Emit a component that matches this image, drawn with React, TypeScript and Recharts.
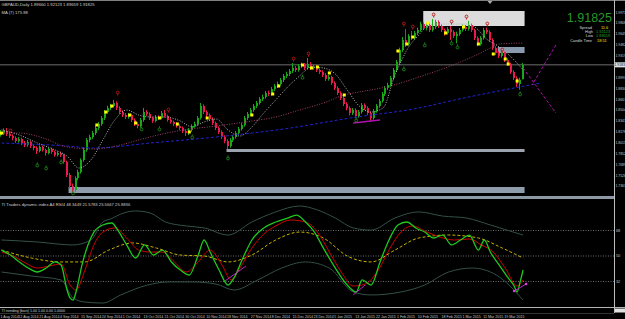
import React from "react"
import { ComposedChart, Bar, Line, XAxis, YAxis, ReferenceArea, ReferenceLine, ReferenceDot } from "recharts"

// GBPAUD daily, Aug 2014 - Mar 2015
const opens = [
  1.8130, 1.8160, 1.8190, 1.8145, 1.8115, 1.8085, 1.8040, 1.8070, 1.8010, 1.7980,
  1.8025, 1.7965, 1.7935, 1.7890, 1.7950, 1.7905, 1.7860, 1.7920, 1.7875, 1.7830,
  1.7860, 1.7830, 1.7725, 1.7530, 1.7365, 1.7305, 1.7485, 1.7575, 1.7755, 1.7905,
  1.8055, 1.8100, 1.8160, 1.8235, 1.8295, 1.8385, 1.8475, 1.8535, 1.8565, 1.8610,
  1.8535, 1.8475, 1.8430, 1.8400, 1.8430, 1.8355, 1.8295, 1.8265, 1.8355, 1.8475,
  1.8445, 1.8385, 1.8340, 1.8400, 1.8385, 1.8460, 1.8415, 1.8355, 1.8325, 1.8295,
  1.8265, 1.8235, 1.8190, 1.8160, 1.8205, 1.8265, 1.8295, 1.8385, 1.8565, 1.8475,
  1.8430, 1.8370, 1.8310, 1.8235, 1.8175, 1.8100, 1.8040, 1.7965, 1.8055, 1.8100,
  1.8160, 1.8220, 1.8280, 1.8385, 1.8445, 1.8505, 1.8565, 1.8610, 1.8670, 1.8700,
  1.8760, 1.8745, 1.8820, 1.8865, 1.8895, 1.8955, 1.9015, 1.9045, 1.9090, 1.9135,
  1.9105, 1.9165, 1.9180, 1.9135, 1.9195, 1.9135, 1.9150, 1.9105, 1.9075, 1.9030,
  1.8970, 1.9000, 1.8910, 1.8835, 1.8760, 1.8685, 1.8595, 1.8535, 1.8460, 1.8505,
  1.8415, 1.8475, 1.8580, 1.8535, 1.8460, 1.8385, 1.8490, 1.8565, 1.8640, 1.8745,
  1.8835, 1.8880, 1.8985, 1.9105, 1.9225, 1.9405, 1.9555, 1.9495, 1.9615, 1.9585,
  1.9660, 1.9705, 1.9795, 1.9735, 1.9780, 1.9705, 1.9750, 1.9825, 1.9765, 1.9705,
  1.9660, 1.9720, 1.9675, 1.9615, 1.9645, 1.9705, 1.9750, 1.9720, 1.9780, 1.9705,
  1.9585, 1.9495, 1.9585, 1.9705, 1.9675, 1.9555, 1.9435, 1.9360, 1.9315, 1.9375,
  1.9255, 1.9195, 1.9075, 1.8985, 1.8895, 1.8966,
]
const highs = [
  1.8205, 1.8230, 1.8235, 1.8175, 1.8140, 1.8110, 1.8100, 1.8090, 1.8040, 1.8055,
  1.8045, 1.7990, 1.7960, 1.7975, 1.7970, 1.7925, 1.7945, 1.7940, 1.7895, 1.7885,
  1.7880, 1.7850, 1.7745, 1.7560, 1.7400, 1.7510, 1.7610, 1.7780, 1.7935, 1.8085,
  1.8135, 1.8190, 1.8265, 1.8325, 1.8415, 1.8505, 1.8570, 1.8600, 1.8655, 1.8635,
  1.8560, 1.8500, 1.8460, 1.8460, 1.8450, 1.8380, 1.8320, 1.8385, 1.8535, 1.8505,
  1.8470, 1.8405, 1.8430, 1.8425, 1.8490, 1.8505, 1.8435, 1.8380, 1.8345, 1.8320,
  1.8290, 1.8255, 1.8215, 1.8235, 1.8290, 1.8330, 1.8415, 1.8610, 1.8590, 1.8500,
  1.8455, 1.8395, 1.8330, 1.8260, 1.8200, 1.8125, 1.8065, 1.8085, 1.8130, 1.8190,
  1.8250, 1.8310, 1.8415, 1.8475, 1.8535, 1.8595, 1.8640, 1.8700, 1.8735, 1.8790,
  1.8795, 1.8850, 1.8895, 1.8930, 1.8985, 1.9045, 1.9080, 1.9120, 1.9210, 1.9165,
  1.9195, 1.9215, 1.9210, 1.9285, 1.9225, 1.9185, 1.9175, 1.9130, 1.9100, 1.9055,
  1.9030, 1.9020, 1.8935, 1.8860, 1.8785, 1.8710, 1.8620, 1.8560, 1.8535, 1.8530,
  1.8505, 1.8610, 1.8605, 1.8560, 1.8480, 1.8520, 1.8595, 1.8670, 1.8775, 1.8865,
  1.8915, 1.9015, 1.9135, 1.9255, 1.9440, 1.9600, 1.9720, 1.9645, 1.9690, 1.9690,
  1.9740, 1.9830, 1.9820, 1.9815, 1.9800, 1.9870, 1.9860, 1.9850, 1.9790, 1.9730,
  1.9750, 1.9765, 1.9700, 1.9680, 1.9735, 1.9785, 1.9780, 1.9840, 1.9800, 1.9725,
  1.9610, 1.9615, 1.9740, 1.9740, 1.9700, 1.9580, 1.9460, 1.9385, 1.9405, 1.9395,
  1.9280, 1.9215, 1.9100, 1.9010, 1.8990, 1.92123,
]
const lows = [
  1.8105, 1.8130, 1.8115, 1.8085, 1.8050, 1.8010, 1.8015, 1.7980, 1.7950, 1.7955,
  1.7935, 1.7900, 1.7845, 1.7870, 1.7880, 1.7820, 1.7840, 1.7850, 1.7805, 1.7810,
  1.7800, 1.7700, 1.7500, 1.7330, 1.7265, 1.7280, 1.7450, 1.7550, 1.7730, 1.7880,
  1.8020, 1.8070, 1.8130, 1.8205, 1.8270, 1.8355, 1.8450, 1.8505, 1.8540, 1.8505,
  1.8445, 1.8400, 1.8370, 1.8375, 1.8325, 1.8265, 1.8230, 1.8240, 1.8330, 1.8415,
  1.8355, 1.8310, 1.8320, 1.8360, 1.8365, 1.8390, 1.8330, 1.8300, 1.8265, 1.8240,
  1.8205, 1.8160, 1.8115, 1.8130, 1.8175, 1.8240, 1.8270, 1.8360, 1.8445, 1.8400,
  1.8340, 1.8280, 1.8205, 1.8145, 1.8070, 1.8005, 1.7920, 1.7940, 1.8025, 1.8075,
  1.8135, 1.8195, 1.8255, 1.8355, 1.8420, 1.8480, 1.8535, 1.8585, 1.8640, 1.8675,
  1.8715, 1.8720, 1.8790, 1.8835, 1.8870, 1.8925, 1.8985, 1.9015, 1.9060, 1.9075,
  1.9080, 1.9135, 1.9105, 1.9110, 1.9105, 1.9110, 1.9075, 1.9045, 1.9000, 1.8940,
  1.8945, 1.8880, 1.8805, 1.8730, 1.8655, 1.8565, 1.8500, 1.8425, 1.8430, 1.8385,
  1.8390, 1.8450, 1.8505, 1.8430, 1.8340, 1.8360, 1.8465, 1.8540, 1.8615, 1.8715,
  1.8805, 1.8855, 1.8955, 1.9075, 1.9195, 1.9375, 1.9450, 1.9470, 1.9555, 1.9560,
  1.9630, 1.9680, 1.9705, 1.9700, 1.9675, 1.9680, 1.9720, 1.9735, 1.9675, 1.9620,
  1.9635, 1.9555, 1.9585, 1.9505, 1.9620, 1.9680, 1.9690, 1.9695, 1.9675, 1.9555,
  1.9465, 1.9470, 1.9560, 1.9645, 1.9525, 1.9405, 1.9330, 1.9285, 1.9290, 1.9225,
  1.9165, 1.9045, 1.8955, 1.8850, 1.8810, 1.89659,
]
const closes = [
  1.8160, 1.8190, 1.8145, 1.8115, 1.8085, 1.8040, 1.8070, 1.8010, 1.7980, 1.8025,
  1.7965, 1.7935, 1.7890, 1.7950, 1.7905, 1.7860, 1.7920, 1.7875, 1.7830, 1.7860,
  1.7830, 1.7725, 1.7530, 1.7365, 1.7305, 1.7485, 1.7575, 1.7755, 1.7905, 1.8055,
  1.8100, 1.8160, 1.8235, 1.8295, 1.8385, 1.8475, 1.8535, 1.8565, 1.8610, 1.8535,
  1.8475, 1.8430, 1.8400, 1.8430, 1.8355, 1.8295, 1.8265, 1.8355, 1.8475, 1.8445,
  1.8385, 1.8340, 1.8400, 1.8385, 1.8460, 1.8415, 1.8355, 1.8325, 1.8295, 1.8265,
  1.8235, 1.8190, 1.8160, 1.8205, 1.8265, 1.8295, 1.8385, 1.8565, 1.8475, 1.8430,
  1.8370, 1.8310, 1.8235, 1.8175, 1.8100, 1.8040, 1.7965, 1.8055, 1.8100, 1.8160,
  1.8220, 1.8280, 1.8385, 1.8445, 1.8505, 1.8565, 1.8610, 1.8670, 1.8700, 1.8760,
  1.8745, 1.8820, 1.8865, 1.8895, 1.8955, 1.9015, 1.9045, 1.9090, 1.9135, 1.9105,
  1.9165, 1.9180, 1.9135, 1.9195, 1.9135, 1.9150, 1.9105, 1.9075, 1.9030, 1.8970,
  1.9000, 1.8910, 1.8835, 1.8760, 1.8685, 1.8595, 1.8535, 1.8460, 1.8505, 1.8415,
  1.8475, 1.8580, 1.8535, 1.8460, 1.8385, 1.8490, 1.8565, 1.8640, 1.8745, 1.8835,
  1.8880, 1.8985, 1.9105, 1.9225, 1.9405, 1.9555, 1.9495, 1.9615, 1.9585, 1.9660,
  1.9705, 1.9795, 1.9735, 1.9780, 1.9705, 1.9750, 1.9825, 1.9765, 1.9705, 1.9660,
  1.9720, 1.9675, 1.9615, 1.9645, 1.9705, 1.9750, 1.9720, 1.9780, 1.9705, 1.9585,
  1.9495, 1.9585, 1.9705, 1.9675, 1.9555, 1.9435, 1.9360, 1.9315, 1.9375, 1.9255,
  1.9195, 1.9075, 1.8985, 1.8895, 1.8960, 1.91825,
]

// moving averages as [bar, price] points
const fastMa = [
  [0, 1.8205], [6, 1.8130], [12, 1.8010], [18, 1.7905], [22, 1.7815], [26, 1.7635], [30, 1.7755],
  [34, 1.8055], [38, 1.8355], [42, 1.8505], [46, 1.8430], [50, 1.8400], [55, 1.8400], [60, 1.8340],
  [64, 1.8250], [68, 1.8325], [72, 1.8370], [76, 1.8205], [80, 1.8115], [84, 1.8250], [88, 1.8460],
  [92, 1.8655], [96, 1.8850], [100, 1.9015], [104, 1.9150], [108, 1.9135], [112, 1.9045], [116, 1.8805],
  [120, 1.8565], [124, 1.8475], [128, 1.8535], [132, 1.9030], [134, 1.9225], [136, 1.9405], [140, 1.9630],
  [143, 1.9765], [146, 1.9795], [150, 1.9795], [156, 1.9795], [160, 1.9705], [162, 1.9600], [167, 1.9450],
  [172, 1.9255], [175, 1.9105],
]
const slowMa = [
  [0, 1.8160], [6, 1.8160], [14, 1.8085], [22, 1.7950], [31, 1.7920], [40, 1.7980], [46, 1.8055],
  [54, 1.8145], [61, 1.8205], [72, 1.8265], [84, 1.8340], [92, 1.8400], [100, 1.8505], [108, 1.8610],
  [115, 1.8730], [122, 1.8790], [129, 1.8850], [135, 1.8925], [140, 1.9000], [147, 1.9105], [154, 1.9225],
  [160, 1.9345], [164, 1.9435], [167, 1.9495], [175, 1.9510],
]
const longMa = [
  [0, 1.8010], [22, 1.7965], [31, 1.7935], [50, 1.8010], [72, 1.8100], [97, 1.8235], [117, 1.8385],
  [140, 1.8535], [152, 1.8655], [172, 1.8835], [181, 1.8910],
]

// signal marks as [bar, price]
const yellowMarks = [
  [0, 1.8160], [32, 1.8280], [35, 1.8475], [37, 1.8565], [43, 1.8430], [45, 1.8310], [53, 1.8385],
  [59, 1.8295], [63, 1.8175], [69, 1.8385], [84, 1.8430], [91, 1.8745], [93, 1.8865], [101, 1.9180],
  [104, 1.9135], [106, 1.9150], [110, 1.9060], [115, 1.8730], [133, 1.9390], [136, 1.9495], [138, 1.9600],
  [143, 1.9810], [149, 1.9660], [155, 1.9750], [160, 1.9495], [165, 1.9345], [169, 1.9270], [170, 1.9195],
  [173, 1.8940],
]
const sellMarks = [
  [3, 1.8190], [39, 1.8760], [56, 1.8505], [98, 1.9270], [103, 1.9345], [135, 1.9795], [138, 1.9750],
  [145, 1.9930], [151, 1.9825], [156, 1.9900], [163, 1.9795], [168, 1.9405],
]
const buyMarks = [
  [12, 1.7680], [15, 1.7635], [20, 1.7725], [24, 1.7260], [47, 1.8220], [53, 1.8220], [64, 1.8100],
  [76, 1.7785], [101, 1.8995], [119, 1.8355], [135, 1.9120], [142, 1.9480], [151, 1.9510], [153, 1.9450],
  [174, 1.8745],
]

// rectangles [fromBar, toBar, low, high] and drawn trend lines
const zones = [
  [142, 175, 1.9765, 1.9990],
  [167, 175, 1.9360, 1.9450],
  [76, 175, 1.7875, 1.7920],
  [23, 175, 1.7260, 1.7350],
]
const trendLines = [
  [[186, 1.9480], [178, 1.8880]],
  [[175, 1.9135], [186, 1.8460]],
  [[118, 1.8310], [127, 1.8355]],
]

// Traders Dynamic Index, [bar, value]
const tdiRsi = [
  [0, 54.2], [3, 50.7], [6, 45.8], [9, 41.5], [12, 38.7], [15, 41.5], [18, 45.8], [20, 43.6], [22, 26.0],
  [23, 20.4], [24, 18.9], [25, 24.6], [27, 43.6], [29, 57.8], [31, 66.9], [34, 71.9], [37, 73.3], [39, 68.3],
  [42, 57.8], [45, 48.6], [48, 57.8], [51, 50.7], [54, 54.2], [57, 45.8], [60, 40.1], [63, 36.6], [66, 50.7],
  [68, 61.3], [70, 52.8], [73, 40.1], [76, 29.5], [78, 34.5], [81, 48.6], [84, 61.3], [88, 69.8], [92, 74.0],
  [96, 76.8], [99, 78.9], [102, 74.0], [105, 66.9], [108, 55.6], [112, 41.5], [116, 29.5], [119, 24.6],
  [121, 33.1], [124, 29.5], [127, 45.8], [130, 61.3], [133, 71.9], [136, 74.0], [139, 69.8], [142, 66.9],
  [145, 62.7], [148, 64.8], [151, 57.8], [154, 61.3], [157, 64.8], [160, 54.2], [162, 61.3], [164, 52.8],
  [167, 43.6], [170, 34.5], [172, 28.8], [173, 24.6], [174, 31.7], [175, 40.1],
]
const tdiSignal = [
  [0, 52.8], [4, 50.0], [8, 45.1], [12, 41.5], [16, 42.9], [20, 44.4], [23, 29.5], [25, 26.0], [28, 40.1],
  [31, 57.8], [34, 66.9], [38, 69.8], [42, 62.7], [46, 54.2], [50, 52.8], [54, 52.8], [58, 45.8], [62, 38.7],
  [66, 45.8], [70, 54.2], [74, 43.6], [77, 33.1], [80, 41.5], [84, 55.6], [88, 65.5], [92, 71.2], [97, 75.4],
  [102, 74.0], [106, 66.9], [110, 52.8], [114, 38.7], [118, 28.8], [122, 30.2], [126, 38.7], [130, 54.2],
  [134, 66.9], [138, 71.2], [142, 67.6], [147, 63.4], [152, 61.3], [157, 62.0], [161, 57.8], [165, 52.8],
  [169, 41.5], [173, 28.8], [175, 33.1],
]
const tdiBase = [
  [0, 54.2], [10, 48.6], [20, 45.8], [28, 45.8], [36, 54.2], [44, 59.2], [52, 55.6], [60, 50.7], [68, 50.0],
  [76, 45.8], [84, 50.7], [92, 61.3], [100, 66.9], [108, 62.7], [116, 50.0], [124, 45.8], [132, 54.2],
  [140, 62.7], [150, 64.8], [160, 62.7], [168, 55.6], [175, 48.6],
]
const tdiUpper = [
  [0, 61.3], [12, 59.9], [24, 57.8], [30, 61.3], [34, 74.0], [37, 76.5], [40, 79.6], [45, 81.8], [50, 80.3],
  [55, 74.0], [62, 71.2], [68, 69.8], [76, 64.8], [84, 74.0], [92, 81.1], [100, 85.3], [106, 82.5],
  [112, 76.8], [118, 69.8], [124, 68.3], [132, 76.8], [140, 81.1], [148, 78.2], [156, 76.8], [164, 71.9],
  [175, 64.8],
]
const tdiLower = [
  [0, 38.7], [10, 35.9], [20, 33.1], [24, 20.4], [28, 17.5], [34, 16.8], [40, 22.5], [49, 29.5], [56, 31.7],
  [64, 31.7], [72, 30.2], [78, 26.0], [86, 33.1], [94, 41.5], [102, 45.8], [110, 41.5], [118, 24.6],
  [124, 22.5], [134, 24.6], [142, 29.5], [150, 38.7], [158, 41.5], [166, 36.6], [175, 18.9],
]
const tdiTrendLines = [
  [[75, 32.4], [82, 42.9]],
  [[118, 22.5], [122, 29.5]],
  [[172, 25.3], [176, 30.2]],
]
const tdiLevels = [32, 50, 68]

// trend strip: [fromBar, toBar, state] with 1 up, -1 down, 0 flat
const trendStates = [
  [0, 22, 0], [23, 30, 1], [31, 40, 0], [41, 44, -1], [45, 58, 0], [59, 62, 1], [63, 76, 0], [77, 83, 1],
  [84, 104, 0], [105, 110, -1], [111, 119, 0], [120, 140, 1], [141, 147, 0], [148, 150, -1], [151, 158, 0],
  [159, 163, 1], [164, 175, -1],
]

const priceTicks = [
  1.7363, 1.7526, 1.7689, 1.7852, 1.8015, 1.8178, 1.8341, 1.8504, 1.8667, 1.8830, 1.8993,
  1.9319, 1.9482, 1.9645, 1.9808, 1.9971,
]
const dateBars = [0, 6, 13, 20, 27, 34, 41, 48, 55, 62, 69, 76, 84, 91, 98, 105, 112, 119, 126, 133, 140, 148, 155, 162, 169]
const dateLabels = [
  "1 Aug 2014", "12 Aug 2014", "21 Aug 2014", "4 Sep 2014", "15 Sep 2014", "24 Sep 2014", "1 Oct 2014",
  "13 Oct 2014", "21 Oct 2014", "30 Oct 2014", "10 Nov 2014", "18 Nov 2014", "27 Nov 2014", "8 Dec 2014",
  "15 Dec 2014", "23 Dec 2014", "5 Jan 2015", "13 Jan 2015", "22 Jan 2015", "1 Feb 2015", "10 Feb 2015",
  "18 Feb 2015", "1 Mar 2015", "11 Mar 2015", "19 Mar 2015",
]
const LAST = 1.91825

const SLOTS = 206
const FONT = "'Liberation Sans', Arial, sans-serif"
const BULL = "#17a817"
const BEAR = "#ea1a4e"
const ZONE_FILL = ["#dcdcdc", "#8a9bb0", "#9ba4ae", "#8e9cab"]
const TREND_COLOR: Record<number, string> = { 1: "#1fc8c8", [-1]: "#d02020", 0: "#7a7a7a" }

const lookup = (pts: number[][]) => {
  const m = new Map<number, number>()
  pts.forEach(([i, v]) => m.set(i, v))
  return m
}
const fastM = lookup(fastMa)
const slowM = lookup(slowMa)
const longM = lookup(longMa)
const yelM = lookup(yellowMarks)
const sellM = lookup(sellMarks)
const buyM = lookup(buyMarks)
const rsiM = lookup(tdiRsi)
const sigM = lookup(tdiSignal)
const baseM = lookup(tdiBase)
const upM = lookup(tdiUpper)
const loM = lookup(tdiLower)

const rows = Array.from({ length: SLOTS }, (_, i) => ({
  i,
  open: i < closes.length ? opens[i] : null,
  high: i < closes.length ? highs[i] : null,
  low: i < closes.length ? lows[i] : null,
  close: i < closes.length ? closes[i] : null,
  fast: fastM.get(i) ?? null,
  slow: slowM.get(i) ?? null,
  long: longM.get(i) ?? null,
  yel: yelM.get(i) ?? null,
  sell: sellM.get(i) ?? null,
  buy: buyM.get(i) ?? null,
}))

const subRows = Array.from({ length: SLOTS }, (_, i) => ({
  i,
  rsi: rsiM.get(i) ?? null,
  sig: sigM.get(i) ?? null,
  base: baseM.get(i) ?? null,
  up: upM.get(i) ?? null,
  lo: loM.get(i) ?? null,
}))

function Candle(props: any) {
  const { x, y, width, height, payload } = props
  if (!payload || payload.high == null || y == null || isNaN(y)) return <g />
  const { open, high, low, close } = payload
  const yHi = Math.min(y, y + height)
  const yLo = Math.max(y, y + height)
  const k = (yLo - yHi) / Math.max(high - low, 1e-9)
  const yo = yHi + (high - open) * k
  const yc = yHi + (high - close) * k
  const color = close >= open ? BULL : BEAR
  const left = Math.round(x + width / 2 - 1)
  return (
    <g>
      <line x1={left + 0.5} x2={left + 0.5} y1={yHi} y2={yLo} stroke={color} strokeWidth={1} />
      <rect x={left} y={Math.min(yo, yc)} width={2} height={Math.max(Math.abs(yc - yo), 1)} fill={color} />
    </g>
  )
}

const yellowDot = (p: any) => {
  const key = `y${p.index}`
  if (p.value == null || p.cy == null || isNaN(p.cy)) return <g key={key} />
  return <rect key={key} x={p.cx - 1.5} y={p.cy - 1.5} width={3} height={3} fill="#ffff00" />
}
const sellDot = (p: any) => {
  const key = `s${p.index}`
  if (p.value == null || p.cy == null || isNaN(p.cy)) return <g key={key} />
  return (
    <g key={key}>
      <circle cx={p.cx} cy={p.cy - 0.5} r={1.4} fill="none" stroke="#b81818" strokeWidth={0.9} />
      <line x1={p.cx} x2={p.cx} y1={p.cy + 0.9} y2={p.cy + 2.6} stroke="#b81818" strokeWidth={0.9} />
    </g>
  )
}
const buyDot = (p: any) => {
  const key = `b${p.index}`
  if (p.value == null || p.cy == null || isNaN(p.cy)) return <g key={key} />
  return (
    <g key={key}>
      <circle cx={p.cx} cy={p.cy + 0.5} r={1.4} fill="none" stroke="#1c8a1c" strokeWidth={0.9} />
      <line x1={p.cx} x2={p.cx} y1={p.cy - 2.6} y2={p.cy - 0.9} stroke="#1c8a1c" strokeWidth={0.9} />
    </g>
  )
}

const PriceTick = (p: any) => (
  <text x={p.x + 0.5} y={p.y + 1.3} fill="#c8c8c8" fontSize={3.4} fontFamily={FONT}>
    {Number(p.payload.value).toFixed(4)}
  </text>
)
const LevelTick = (p: any) => (
  <text x={p.x + 1} y={p.y + 1.4} fill="#c8c8c8" fontSize={3.8} fontFamily={FONT}>
    {p.payload.value}
  </text>
)
const DateTick = (p: any) => {
  const k = dateBars.indexOf(Number(p.payload.value))
  return (
    <text x={p.x - 1} y={p.y + 4.6} fill="#c8c8c8" fontSize={3.6} fontFamily={FONT}>
      {k >= 0 ? dateLabels[k] : ""}
    </text>
  )
}
const PriceTag = (p: any) => {
  const vb = p.viewBox
  if (!vb) return null
  const x = vb.x + vb.width
  return (
    <g>
      <rect x={x} y={vb.y - 2.5} width={11} height={5} fill="#e4e4e4" />
      <text x={x + 0.5} y={vb.y + 1.3} fill="#000" fontSize={3.4} fontFamily={FONT}>
        {LAST.toFixed(4)}
      </text>
    </g>
  )
}

const Y_MIN = 1.7215
const Y_MAX = 2.011
const T_MIN = 14.71
const T_MAX = 88.82

export default function App() {
  const pos = (top: number): React.CSSProperties => ({ position: "absolute", left: 0, top })
  return (
    <div style={{ position: "absolute", left: 0, top: 0, width: 625, height: 319, background: "#000", overflow: "hidden" }}>
      {/* main panel background objects */}
      <div style={pos(0)}>
        <ComposedChart width={625} height={196} data={rows} margin={{ top: 3, right: 11, bottom: 0, left: 0 }}>
          <XAxis dataKey="i" type="category" scale="band" hide />
          <YAxis domain={[Y_MIN, Y_MAX]} allowDataOverflow hide />
          {zones.map((z, k) => (
            <ReferenceArea key={k} x1={z[0]} x2={z[1]} y1={z[2]} y2={z[3]} fill={ZONE_FILL[k]} fillOpacity={1} stroke="none" />
          ))}
          <ReferenceLine y={LAST} stroke="#6e6e6e" strokeWidth={1} />
        </ComposedChart>
      </div>

      {/* main panel price + indicators */}
      <div style={pos(0)}>
        <ComposedChart width={625} height={196} data={rows} margin={{ top: 3, right: 0, bottom: 0, left: 0 }}>
          <XAxis dataKey="i" type="category" scale="band" hide />
          <YAxis
            orientation="right"
            width={11}
            domain={[Y_MIN, Y_MAX]}
            allowDataOverflow
            ticks={priceTicks}
            interval={0}
            tick={<PriceTick />}
            tickSize={1}
            tickMargin={0}
            axisLine={false}
            tickLine={{ stroke: "#b0b0b0" }}
          />
          <Bar dataKey={(d: any) => (d.high == null ? null : [d.low, d.high])} shape={<Candle />} barSize={2} isAnimationActive={false} />
          <Line dataKey="long" type="monotone" stroke="#2222d0" strokeWidth={1} strokeDasharray="3 2" dot={false} connectNulls isAnimationActive={false} />
          <Line dataKey="slow" type="monotone" stroke="#a0406a" strokeWidth={1} strokeDasharray="1 1.5" dot={false} connectNulls isAnimationActive={false} />
          <Line dataKey="fast" type="monotone" stroke="#b4b4b4" strokeWidth={1} strokeDasharray="1 1.5" dot={false} connectNulls isAnimationActive={false} />
          <Line dataKey="yel" stroke="none" strokeWidth={0} dot={yellowDot} activeDot={false} isAnimationActive={false} />
          <Line dataKey="sell" stroke="none" strokeWidth={0} dot={sellDot} activeDot={false} isAnimationActive={false} />
          <Line dataKey="buy" stroke="none" strokeWidth={0} dot={buyDot} activeDot={false} isAnimationActive={false} />
          {trendLines.map((s, k) => (
            <ReferenceLine
              key={k}
              segment={[{ x: s[0][0], y: s[0][1] }, { x: s[1][0], y: s[1][1] }]}
              stroke="#b012b0"
              strokeWidth={k === 2 ? 1.6 : 1}
              strokeDasharray={k === 2 ? undefined : "3 2"}
            />
          ))}
          <ReferenceLine y={LAST} stroke="transparent" label={<PriceTag />} />
        </ComposedChart>
      </div>

      {/* Traders Dynamic Index panel */}
      <div style={pos(199)}>
        <ComposedChart width={625} height={108} data={subRows} margin={{ top: 2, right: 0, bottom: 1, left: 0 }}>
          <XAxis dataKey="i" type="category" scale="band" hide />
          <YAxis
            orientation="right"
            width={11}
            domain={[T_MIN, T_MAX]}
            allowDataOverflow
            ticks={tdiLevels}
            interval={0}
            tick={<LevelTick />}
            tickSize={1}
            tickMargin={0}
            axisLine={false}
            tickLine={{ stroke: "#b0b0b0" }}
          />
          {tdiLevels.map((v) => (
            <ReferenceLine key={v} y={v} stroke="#6c6c6c" strokeDasharray="1 1.5" />
          ))}
          <Line dataKey="up" type="monotone" stroke="#33504a" strokeWidth={1} dot={false} connectNulls isAnimationActive={false} />
          <Line dataKey="lo" type="monotone" stroke="#33504a" strokeWidth={1} dot={false} connectNulls isAnimationActive={false} />
          <Line dataKey="base" type="monotone" stroke="#c8b400" strokeWidth={1} strokeDasharray="3 2" dot={false} connectNulls isAnimationActive={false} />
          <Line dataKey="sig" type="monotone" stroke="#d00000" strokeWidth={1} dot={false} connectNulls isAnimationActive={false} />
          <Line dataKey="rsi" type="monotone" stroke="#1ec81e" strokeWidth={1.3} dot={false} connectNulls isAnimationActive={false} />
          {tdiTrendLines.map((s, k) => (
            <ReferenceLine key={k} segment={[{ x: s[0][0], y: s[0][1] }, { x: s[1][0], y: s[1][1] }]} stroke="#c020c8" strokeWidth={1} />
          ))}
          {tdiTrendLines[2].map((pt, k) => (
            <ReferenceDot key={`d${k}`} x={pt[0]} y={pt[1]} r={1.3} fill="#e040e0" stroke="none" />
          ))}
        </ComposedChart>
      </div>

      {/* trend strip + date axis */}
      <div style={pos(308)}>
        <ComposedChart width={625} height={11} data={subRows} margin={{ top: 0, right: 11, bottom: 0, left: 0 }}>
          <XAxis
            dataKey="i"
            type="category"
            scale="band"
            height={6}
            ticks={dateBars}
            interval={0}
            tick={<DateTick />}
            tickSize={0}
            tickMargin={0}
            axisLine={false}
            tickLine={false}
          />
          <YAxis domain={[0, 2]} hide />
          {trendStates.map((s, k) => (
            <ReferenceLine key={k} segment={[{ x: s[0], y: 1 }, { x: s[1], y: 1 }]} stroke={TREND_COLOR[s[2]]} strokeWidth={1.4} strokeDasharray="1 1" />
          ))}
        </ComposedChart>
      </div>

      {/* frame, separators and texts */}
      <svg width={625} height={319} style={{ position: "absolute", left: 0, top: 0, pointerEvents: "none" }}>
        <rect x={0} y={0} width={625} height={1} fill="#808080" />
        <rect x={0} y={196} width={614} height={3} fill="#8d99a6" />
        <rect x={0} y={307} width={625} height={1} fill="#b4b4b4" />
        <rect x={0} y={313} width={614} height={0.7} fill="#4a4a4a" />
        <rect x={614} y={0} width={1} height={313} fill="#bdbdbd" />
        <polygon points="487.5,1 492.5,1 490,4" fill="#a8a8a8" />
        <rect x={615} y={308.5} width={10} height={4} fill="#e0e0e0" />

        <g fontFamily={FONT} fontSize={4.2} fill="#cfcfcf">
          <text x={1.5} y={5.5}>GBPAUD,Daily  1.89660 1.92123 1.89659 1.91825</text>
          <text x={1.5} y={13.5}>MA (7)  175.88</text>
          <text x={1.5} y={205.5}>TI Traders dynamic index A4 RSI4 48.3449 21.5783 25.5667 25.8836</text>
        </g>
        <text x={1.5} y={312.2} fontFamily={FONT} fontSize={3.6} fill="#cfcfcf">TI trending (bars) 1.00 1.00 0.00 1.0000</text>

        <text x={612} y={22} textAnchor="end" fontFamily={FONT} fontSize={12.5} fill="#2a962a">1.91825</text>
        <g fontFamily={FONT} fontSize={3.9}>
          <text x={592} y={28.6} textAnchor="end" fill="#d8d8d8">Spread</text>
          <text x={601} y={28.6} fill="#e8e800">11.6</text>
          <text x={593} y={33} textAnchor="end" fill="#d8d8d8">High</text>
          <text x={596} y={33} fill="#22a022">1.92123</text>
          <text x={593} y={37.4} textAnchor="end" fill="#d8d8d8">Low</text>
          <text x={596} y={37.4} fill="#22a022">1.89659</text>
          <text x={592} y={42.2} textAnchor="end" fill="#d8d8d8">Candle Time</text>
          <text x={597} y={42.2} fill="#e8e800">18:51</text>
        </g>
      </svg>
    </div>
  )
}
